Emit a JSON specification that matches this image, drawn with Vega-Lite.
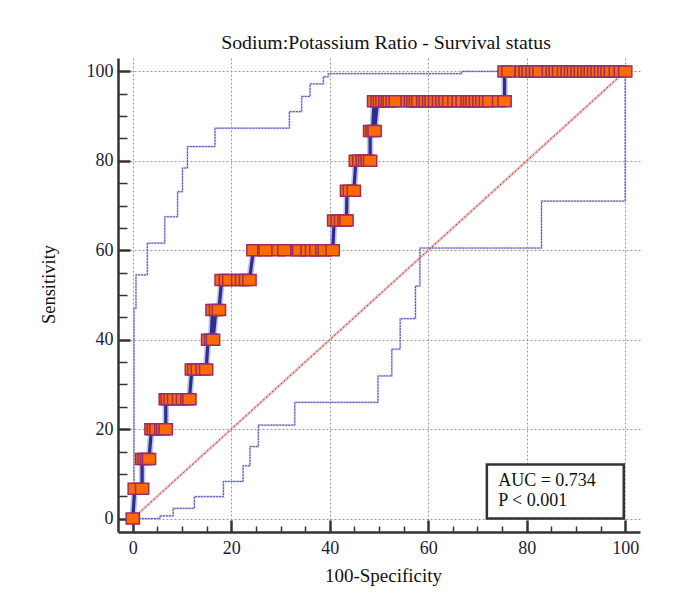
{
  "$schema": "https://vega.github.io/schema/vega-lite/v6.json",
  "width": 522,
  "height": 474,
  "autosize": {"type": "none"},
  "padding": {"left": 118, "top": 58, "right": 54, "bottom": 78},
  "background": "white",
  "config": {"view": {"stroke": null}, "font": "Liberation Serif"},
  "title": {
    "text": "Sodium:Potassium Ratio - Survival status",
    "font": "Liberation Serif",
    "fontSize": 19.8,
    "fontWeight": "normal",
    "color": "#111111",
    "anchor": "middle",
    "frame": "group",
    "offset": -11,
    "baseline": "alphabetic",
    "dx": 7
  },
  "datasets": {
    "roc": [
      {"x": 0, "y": 0},
      {"x": 0.4, "y": 6.667}, {"x": 1.9, "y": 6.667},
      {"x": 1.9, "y": 13.333}, {"x": 2.4, "y": 13.333}, {"x": 2.9, "y": 13.333}, {"x": 3.3, "y": 13.333},
      {"x": 3.8, "y": 20}, {"x": 4.3, "y": 20}, {"x": 4.8, "y": 20}, {"x": 5.8, "y": 20}, {"x": 6.2, "y": 20}, {"x": 6.7, "y": 20},
      {"x": 6.7, "y": 26.667}, {"x": 7.1, "y": 26.667}, {"x": 7.7, "y": 26.667}, {"x": 8.4, "y": 26.667}, {"x": 9.4, "y": 26.667}, {"x": 10.2, "y": 26.667}, {"x": 11.1, "y": 26.667}, {"x": 11.5, "y": 26.667},
      {"x": 12.0, "y": 33.333}, {"x": 12.5, "y": 33.333}, {"x": 13.2, "y": 33.333}, {"x": 14.2, "y": 33.333}, {"x": 14.9, "y": 33.333},
      {"x": 15.3, "y": 40}, {"x": 15.9, "y": 40}, {"x": 16.3, "y": 40},
      {"x": 16.2, "y": 46.667}, {"x": 16.9, "y": 46.667}, {"x": 17.5, "y": 46.667},
      {"x": 18.05, "y": 53.333}, {"x": 18.9, "y": 53.333}, {"x": 19.6, "y": 53.333}, {"x": 21.4, "y": 53.333}, {"x": 22.2, "y": 53.333}, {"x": 23.0, "y": 53.333}, {"x": 23.7, "y": 53.333},
      {"x": 24.5, "y": 60}, {"x": 26.7, "y": 60}, {"x": 27.0, "y": 60}, {"x": 29.6, "y": 60}, {"x": 30.8, "y": 60}, {"x": 33.5, "y": 60}, {"x": 33.8, "y": 60}, {"x": 35.5, "y": 60}, {"x": 36.4, "y": 60}, {"x": 37.3, "y": 60}, {"x": 38.5, "y": 60}, {"x": 39.0, "y": 60}, {"x": 40.6, "y": 60},
      {"x": 40.9, "y": 66.667}, {"x": 41.6, "y": 66.667}, {"x": 42.3, "y": 66.667}, {"x": 43.0, "y": 66.667}, {"x": 43.4, "y": 66.667},
      {"x": 43.5, "y": 73.333}, {"x": 44.1, "y": 73.333}, {"x": 44.9, "y": 73.333},
      {"x": 45.3, "y": 80}, {"x": 46.0, "y": 80}, {"x": 46.7, "y": 80}, {"x": 47.2, "y": 80}, {"x": 47.7, "y": 80}, {"x": 48.2, "y": 80},
      {"x": 48.2, "y": 86.667}, {"x": 48.7, "y": 86.667}, {"x": 49.1, "y": 86.667},
      {"x": 49.0, "y": 93.333}, {"x": 49.7, "y": 93.333}, {"x": 50.2, "y": 93.333}, {"x": 50.7, "y": 93.333}, {"x": 51.3, "y": 93.333}, {"x": 51.8, "y": 93.333}, {"x": 52.2, "y": 93.333}, {"x": 52.8, "y": 93.333}, {"x": 53.4, "y": 93.333}, {"x": 55.8, "y": 93.333}, {"x": 56.5, "y": 93.333}, {"x": 57.0, "y": 93.333}, {"x": 57.5, "y": 93.333}, {"x": 58.0, "y": 93.333}, {"x": 59.0, "y": 93.333}, {"x": 59.5, "y": 93.333}, {"x": 60.2, "y": 93.333}, {"x": 60.7, "y": 93.333}, {"x": 61.4, "y": 93.333}, {"x": 62.2, "y": 93.333}, {"x": 62.9, "y": 93.333}, {"x": 63.5, "y": 93.333}, {"x": 64.3, "y": 93.333}, {"x": 65.3, "y": 93.333}, {"x": 66.2, "y": 93.333}, {"x": 67.0, "y": 93.333}, {"x": 68.0, "y": 93.333}, {"x": 68.5, "y": 93.333}, {"x": 69.0, "y": 93.333}, {"x": 69.7, "y": 93.333}, {"x": 70.4, "y": 93.333}, {"x": 71.0, "y": 93.333}, {"x": 71.7, "y": 93.333}, {"x": 72.4, "y": 93.333}, {"x": 74.4, "y": 93.333}, {"x": 75.5, "y": 93.333},
      {"x": 75.5, "y": 100}, {"x": 76.3, "y": 100}, {"x": 79.0, "y": 100}, {"x": 79.8, "y": 100}, {"x": 80.4, "y": 100}, {"x": 81.2, "y": 100}, {"x": 81.9, "y": 100}, {"x": 82.6, "y": 100}, {"x": 84.5, "y": 100}, {"x": 85.3, "y": 100}, {"x": 85.9, "y": 100}, {"x": 86.6, "y": 100}, {"x": 87.6, "y": 100}, {"x": 88.3, "y": 100}, {"x": 89.0, "y": 100}, {"x": 89.6, "y": 100}, {"x": 90.3, "y": 100}, {"x": 91.0, "y": 100}, {"x": 91.7, "y": 100}, {"x": 92.4, "y": 100}, {"x": 93.0, "y": 100}, {"x": 93.7, "y": 100}, {"x": 94.4, "y": 100}, {"x": 95.1, "y": 100}, {"x": 95.8, "y": 100}, {"x": 96.4, "y": 100}, {"x": 97.1, "y": 100}, {"x": 98.1, "y": 100}, {"x": 99.1, "y": 100}, {"x": 100, "y": 100}
    ],
    "bands": [
      {"b": "u", "i": 1, "x": 0, "y": 0}, {"b": "u", "i": 2, "x": 0.25, "y": 0}, {"b": "u", "i": 3, "x": 0.25, "y": 47.0}, {"b": "u", "i": 4, "x": 0.65, "y": 47.0},
      {"b": "u", "i": 5, "x": 0.65, "y": 54.5}, {"b": "u", "i": 6, "x": 2.95, "y": 54.5}, {"b": "u", "i": 7, "x": 2.95, "y": 61.6}, {"b": "u", "i": 8, "x": 6.5, "y": 61.6},
      {"b": "u", "i": 9, "x": 6.5, "y": 67.5}, {"b": "u", "i": 10, "x": 9.1, "y": 67.5}, {"b": "u", "i": 11, "x": 9.1, "y": 73.1}, {"b": "u", "i": 12, "x": 10.1, "y": 73.1},
      {"b": "u", "i": 13, "x": 10.1, "y": 78.4}, {"b": "u", "i": 14, "x": 11.1, "y": 78.4}, {"b": "u", "i": 15, "x": 11.1, "y": 83.2}, {"b": "u", "i": 16, "x": 16.7, "y": 83.2},
      {"b": "u", "i": 17, "x": 16.7, "y": 87.3}, {"b": "u", "i": 18, "x": 31.8, "y": 87.3}, {"b": "u", "i": 19, "x": 31.8, "y": 91.0}, {"b": "u", "i": 20, "x": 34.3, "y": 91.0},
      {"b": "u", "i": 21, "x": 34.3, "y": 94.4}, {"b": "u", "i": 22, "x": 36.0, "y": 94.4}, {"b": "u", "i": 23, "x": 36.0, "y": 97.2}, {"b": "u", "i": 24, "x": 38.7, "y": 97.2},
      {"b": "u", "i": 25, "x": 38.7, "y": 98.8}, {"b": "u", "i": 26, "x": 39.7, "y": 98.8}, {"b": "u", "i": 27, "x": 39.7, "y": 99.5}, {"b": "u", "i": 28, "x": 66.8, "y": 99.5},
      {"b": "u", "i": 29, "x": 66.8, "y": 100}, {"b": "u", "i": 30, "x": 100, "y": 100},
      {"b": "l", "i": 1, "x": 0, "y": 0}, {"b": "l", "i": 2, "x": 5.5, "y": 0}, {"b": "l", "i": 3, "x": 5.5, "y": 0.6}, {"b": "l", "i": 4, "x": 8.2, "y": 0.6},
      {"b": "l", "i": 5, "x": 8.2, "y": 2.3}, {"b": "l", "i": 6, "x": 12.5, "y": 2.3}, {"b": "l", "i": 7, "x": 12.5, "y": 4.9}, {"b": "l", "i": 8, "x": 18.4, "y": 4.9},
      {"b": "l", "i": 9, "x": 18.4, "y": 8.3}, {"b": "l", "i": 10, "x": 22.4, "y": 8.3}, {"b": "l", "i": 11, "x": 22.4, "y": 11.8}, {"b": "l", "i": 12, "x": 23.8, "y": 11.8},
      {"b": "l", "i": 13, "x": 23.8, "y": 16.1}, {"b": "l", "i": 14, "x": 25.5, "y": 16.1}, {"b": "l", "i": 15, "x": 25.5, "y": 20.9}, {"b": "l", "i": 16, "x": 32.9, "y": 20.9},
      {"b": "l", "i": 17, "x": 32.9, "y": 26.0}, {"b": "l", "i": 18, "x": 49.8, "y": 26.0}, {"b": "l", "i": 19, "x": 49.8, "y": 31.9}, {"b": "l", "i": 20, "x": 52.6, "y": 31.9},
      {"b": "l", "i": 21, "x": 52.6, "y": 37.9}, {"b": "l", "i": 22, "x": 54.3, "y": 37.9}, {"b": "l", "i": 23, "x": 54.3, "y": 44.7}, {"b": "l", "i": 24, "x": 57.4, "y": 44.7},
      {"b": "l", "i": 25, "x": 57.4, "y": 52.0}, {"b": "l", "i": 26, "x": 58.3, "y": 52.0}, {"b": "l", "i": 27, "x": 58.3, "y": 60.5}, {"b": "l", "i": 28, "x": 83.0, "y": 60.5},
      {"b": "l", "i": 29, "x": 83.0, "y": 71.0}, {"b": "l", "i": 30, "x": 100, "y": 71.0}, {"b": "l", "i": 31, "x": 100, "y": 100}
    ],
    "diag": [{"x": 0, "y": 0}, {"x": 100, "y": 100}],
    "box": [{"x": 71.9, "x2": 99.7, "y": 0, "y2": 12.1}],
    "note": [{"x": 74.2, "y": 8.4, "t": "AUC = 0.734"}, {"x": 74.2, "y": 3.9, "t": "P < 0.001"}]
  },
  "encoding": {
    "x": {
      "field": "x",
      "type": "quantitative",
      "scale": {"domain": [-3, 103], "nice": false, "zero": false},
      "axis": {
        "values": [0, 5, 10, 15, 20, 25, 30, 35, 40, 45, 50, 55, 60, 65, 70, 75, 80, 85, 90, 95, 100],
        "labelExpr": "datum.value % 20 === 0 ? datum.label : ''",
        "labelOverlap": false,
        "labelFlush": false,
        "labelBound": false,
        "grid": true,
        "gridColor": "#9a9a9a",
        "gridDash": [2, 2],
        "gridWidth": 1,
        "gridOpacity": {"condition": {"test": "datum.value % 20 === 0", "value": 1}, "value": 0},
        "domainColor": "#333333",
        "domainWidth": 2.5,
        "tickColor": "#333333",
        "tickSize": {"condition": {"test": "datum.value % 20 === 0", "value": -12}, "value": -6},
        "tickWidth": {"condition": {"test": "datum.value % 20 === 0", "value": 2.5}, "value": 1.5},
        "labelFont": "Liberation Serif",
        "labelFontSize": 18,
        "labelColor": "#1c1c3a",
        "labelPadding": 19.5,
        "title": "100-Specificity",
        "titleFont": "Liberation Serif",
        "titleFontSize": 19,
        "titleFontWeight": "normal",
        "titleColor": "#111111",
        "titleX": 265,
        "titleY": 49,
        "titleAlign": "center",
        "titleBaseline": "alphabetic"
      }
    },
    "y": {
      "field": "y",
      "type": "quantitative",
      "scale": {"domain": [-3, 103], "nice": false, "zero": false},
      "axis": {
        "values": [0, 5, 10, 15, 20, 25, 30, 35, 40, 45, 50, 55, 60, 65, 70, 75, 80, 85, 90, 95, 100],
        "labelExpr": "datum.value % 20 === 0 ? datum.label : ''",
        "labelOverlap": false,
        "labelFlush": false,
        "labelBound": false,
        "grid": true,
        "gridColor": "#9a9a9a",
        "gridDash": [2, 2],
        "gridWidth": 1,
        "gridOpacity": {"condition": {"test": "datum.value % 20 === 0", "value": 1}, "value": 0},
        "domainColor": "#333333",
        "domainWidth": 2.5,
        "tickColor": "#333333",
        "tickSize": {"condition": {"test": "datum.value % 20 === 0", "value": -12}, "value": -9},
        "tickWidth": {"condition": {"test": "datum.value % 20 === 0", "value": 2.5}, "value": 1.5},
        "labelFont": "Liberation Serif",
        "labelFontSize": 18,
        "labelColor": "#1c1c3a",
        "labelPadding": 17,
        "title": "Sensitivity",
        "titleFont": "Liberation Serif",
        "titleFontSize": 18.5,
        "titleFontWeight": "normal",
        "titleColor": "#111111",
        "titleX": -70,
        "titleY": 226,
        "titleAngle": 270,
        "titleAlign": "center",
        "titleBaseline": "middle"
      }
    }
  },
  "layer": [
    {
      "data": {"name": "diag"},
      "mark": {"type": "line", "color": "#e3b3b3", "strokeWidth": 3, "opacity": 0.7},
      "encoding": {}
    },
    {
      "data": {"name": "diag"},
      "mark": {"type": "line", "color": "#a83030", "strokeWidth": 1, "strokeDash": [2, 2]},
      "encoding": {}
    },
    {
      "data": {"name": "bands"},
      "mark": {"type": "line", "color": "#b8b8e6", "strokeWidth": 2.2, "opacity": 0.6},
      "encoding": {"detail": {"field": "b"}, "order": {"field": "i"}}
    },
    {
      "data": {"name": "bands"},
      "mark": {"type": "line", "color": "#4a4aaa", "strokeWidth": 1, "strokeDash": [2, 1]},
      "encoding": {"detail": {"field": "b"}, "order": {"field": "i"}}
    },
    {
      "data": {"name": "roc"},
      "mark": {"type": "line", "color": "#9090d8", "strokeWidth": 6.5, "opacity": 0.55},
      "encoding": {"order": [{"field": "y"}, {"field": "x"}]}
    },
    {
      "data": {"name": "roc"},
      "mark": {"type": "line", "color": "#2d2d96", "strokeWidth": 3.2},
      "encoding": {"order": [{"field": "y"}, {"field": "x"}]}
    },
    {
      "data": {"name": "roc"},
      "mark": {
        "type": "point",
        "shape": "M-1.1,-0.92H1.1V0.92H-1.1Z",
        "size": 144,
        "filled": true,
        "fill": "#ff6a00",
        "fillOpacity": 1,
        "stroke": "#9b2d62",
        "strokeWidth": 1.5,
        "opacity": 1
      },
      "encoding": {}
    },
    {
      "data": {"name": "box"},
      "mark": {"type": "rect", "fill": "white", "stroke": "#333333", "strokeWidth": 2.5},
      "encoding": {"x2": {"field": "x2"}, "y2": {"field": "y2"}}
    },
    {
      "data": {"name": "note"},
      "mark": {"type": "text", "align": "left", "baseline": "middle", "font": "Liberation Serif", "fontSize": 18, "color": "#111111"},
      "encoding": {"text": {"field": "t"}}
    }
  ]
}
